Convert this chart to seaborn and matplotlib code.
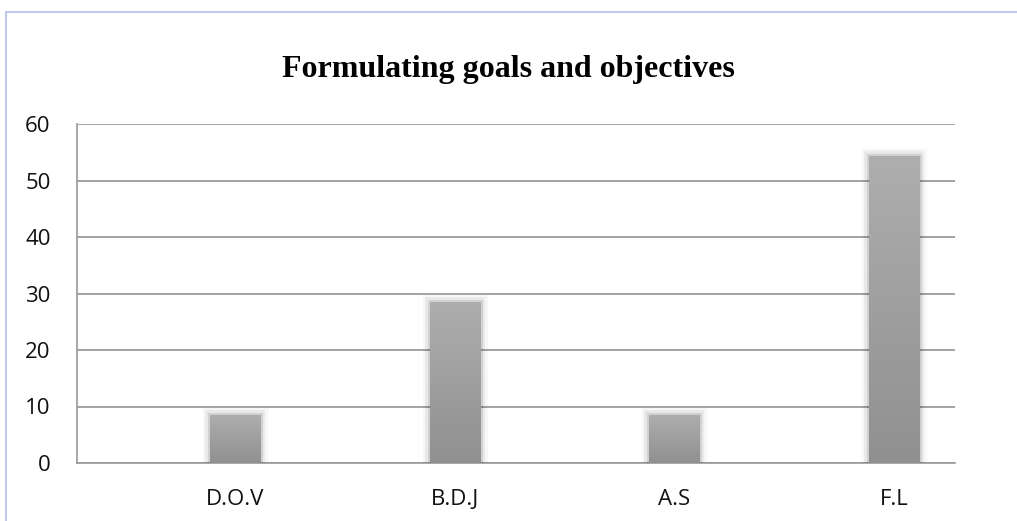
import numpy as np
import pandas as pd
import matplotlib
matplotlib.use("Agg")
import matplotlib.pyplot as plt
import matplotlib.patheffects as pe
from matplotlib.lines import Line2D
import seaborn as sns

# Chart data
categories = ["D.O.V", "B.D.J", "A.S", "F.L"]
values = [8.57, 28.57, 8.57, 54.29]
y_ticks = [0, 10, 20, 30, 40, 50, 60]
title = "Formulating goals and objectives"

df = pd.DataFrame({"category": categories, "value": values})

sns.set_theme(style="white")
plt.rcParams["font.family"] = ["Open Sans", "DejaVu Sans"]

fig = plt.figure(figsize=(10.17, 5.21), dpi=100)
ax = fig.add_axes([77 / 1017, 1 - 463 / 521, (955 - 77) / 1017, (463 - 124) / 521])

sns.barplot(data=df, x="category", y="value", color="#a0a0a0", width=0.228,
            ax=ax, zorder=3)

# vertical grey gradient on each bar, with a soft shadow around it
grad = np.linspace(0, 1, 256).reshape(-1, 1)
cmap = matplotlib.colors.LinearSegmentedColormap.from_list(
    "bar", ["#909090", "#aeaeae"])
for patch in ax.patches:
    x0, y0 = patch.get_x(), patch.get_y()
    w, h = patch.get_width(), patch.get_height()
    patch.set_edgecolor("none")
    patch.set_path_effects([
        pe.Stroke(linewidth=11, foreground="black", alpha=0.03),
        pe.Stroke(linewidth=7, foreground="black", alpha=0.06),
        pe.Stroke(linewidth=3.5, foreground="black", alpha=0.10),
        pe.Normal(),
    ])
    im = ax.imshow(grad, extent=(x0, x0 + w, y0, y0 + h), origin="lower",
                   cmap=cmap, aspect="auto", zorder=4, interpolation="bicubic")
    im.set_clip_path(patch)

ax.set_xlim(-0.719, 3.277)
ax.set_ylim(0, 60)
ax.set_yticks(y_ticks)
ax.set_xlabel("")
ax.set_ylabel("")

ax.yaxis.grid(True, color="#949494", linewidth=1.2, zorder=0)
ax.set_axisbelow(True)
for side in ["top", "right"]:
    ax.spines[side].set_visible(False)
for side in ["left", "bottom"]:
    ax.spines[side].set_color("#999999")
    ax.spines[side].set_linewidth(1.2)

ax.tick_params(axis="y", length=0, pad=19, labelsize=16, labelcolor="#111111")
ax.tick_params(axis="x", length=0, pad=19, labelsize=16, labelcolor="#111111")

fig.text(0.5, 1 - 77 / 521, title, ha="center", va="baseline",
         fontsize=23, fontweight="bold", family=["Liberation Serif"],
         color="black")

# frame lines of the chart area
fig.add_artist(Line2D([6 / 1017, 6 / 1017], [0, 1 - 12 / 521],
                      color="#bccbea", linewidth=1.5, transform=fig.transFigure))
fig.add_artist(Line2D([6 / 1017, 1], [1 - 12 / 521, 1 - 12 / 521],
                      color="#bccbea", linewidth=1.5, transform=fig.transFigure))

fig.savefig("out.png", dpi=100, facecolor="white")
